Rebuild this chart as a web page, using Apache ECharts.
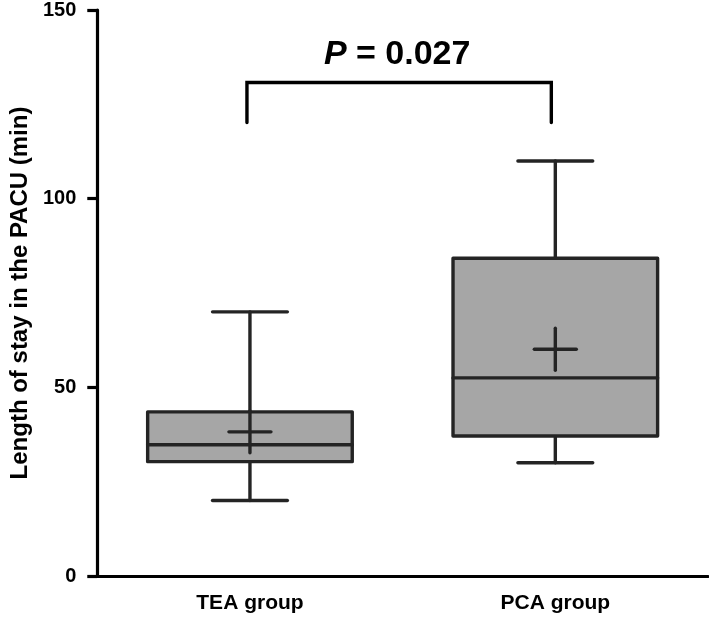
<!DOCTYPE html>
<html>
<head>
<meta charset="utf-8">
<script src="https://cdn.jsdelivr.net/npm/echarts@6/dist/echarts.min.js"></script>
<style>html,body{margin:0;padding:0;background:#fff}#c{width:709px;height:621px}</style>
</head>
<body>
<div id="c"></div>
<script>
var categories = ['TEA group', 'PCA group'];
var whiskerMin = [20, 30];
var q1Values = [30.3, 37.1];
var medianValues = [34.8, 52.5];
var q3Values = [43.5, 84.2];
var whiskerMax = [70, 110];
var meanValues = [38.2, 60.1];
var yTicks = [0, 50, 100, 150];
var bracketTop = 130.8;
var bracketBottom = 120.2;
var pLabelValue = 138.3;
var pLabel = 'P = 0.027';

var FONT = '"Liberation Sans", Arial, Helvetica, sans-serif';
var LINE = '#242424';
var FILL = '#a6a6a6';

var boxData = categories.map(function (c, i) {
  return [i, whiskerMin[i], q1Values[i], medianValues[i], q3Values[i], whiskerMax[i], meanValues[i]];
});

var chart = echarts.init(document.getElementById('c'), null, {renderer: 'canvas'});
chart.setOption({
  animation: false,
  backgroundColor: '#fff',
  grid: {left: 97, right: 1, top: 9.5, bottom: 45, containLabel: false},
  xAxis: {
    type: 'category',
    data: categories,
    boundaryGap: true,
    axisLine: {lineStyle: {color: '#000', width: 3.2}},
    axisTick: {alignWithLabel: true, length: 12, lineStyle: {color: '#000', width: 3.2}},
    axisLabel: {color: '#000', fontFamily: FONT, fontWeight: 'bold', fontSize: 21, margin: 17},
    splitLine: {show: false}
  },
  yAxis: {
    type: 'value',
    min: yTicks[0],
    max: yTicks[yTicks.length - 1],
    interval: yTicks[1] - yTicks[0],
    name: 'Length of stay in the PACU (min)',
    nameLocation: 'middle',
    nameRotate: 90,
    nameGap: 62,
    nameTextStyle: {color: '#000', fontFamily: FONT, fontWeight: 'bold', fontSize: 24},
    axisLine: {show: true, lineStyle: {color: '#000', width: 3.2}},
    axisTick: {show: true, inside: false, length: 10, lineStyle: {color: '#000', width: 3.2}},
    axisLabel: {color: '#000', fontFamily: FONT, fontWeight: 'bold', fontSize: 20, margin: 21},
    splitLine: {show: false}
  },
  series: [
    {
      type: 'custom',
      data: boxData,
      encode: {x: 0, y: [1, 2, 3, 4, 5, 6]},
      renderItem: function (params, api) {
        var i = api.value(0);
        var band = api.size([1, 0])[0];
        var cx = api.coord([i, 0])[0];
        var yMin = api.coord([i, api.value(1)])[1];
        var yQ1 = api.coord([i, api.value(2)])[1];
        var yMed = api.coord([i, api.value(3)])[1];
        var yQ3 = api.coord([i, api.value(4)])[1];
        var yMax = api.coord([i, api.value(5)])[1];
        var yMean = api.coord([i, api.value(6)])[1];
        var hw = band * 0.67 / 2;
        var cap = band * 0.245 / 2;
        var cr = 21;
        var ls = {stroke: LINE, lineWidth: 3.4, lineCap: 'round'};
        return {
          type: 'group',
          children: [
            {type: 'line', shape: {x1: cx, y1: yMax, x2: cx, y2: yQ3}, style: ls},
            {type: 'line', shape: {x1: cx, y1: yQ1, x2: cx, y2: yMin}, style: ls},
            {type: 'line', shape: {x1: cx - cap, y1: yMax, x2: cx + cap, y2: yMax}, style: ls},
            {type: 'line', shape: {x1: cx - cap, y1: yMin, x2: cx + cap, y2: yMin}, style: ls},
            {type: 'rect', shape: {x: cx - hw, y: yQ3, width: hw * 2, height: yQ1 - yQ3},
              style: {fill: FILL, stroke: LINE, lineWidth: 3.4, lineJoin: 'round'}},
            {type: 'line', shape: {x1: cx - hw, y1: yMed, x2: cx + hw, y2: yMed}, style: ls},
            {type: 'line', shape: {x1: cx - cr, y1: yMean, x2: cx + cr, y2: yMean}, style: ls},
            {type: 'line', shape: {x1: cx, y1: yMean - cr, x2: cx, y2: yMean + cr}, style: ls}
          ]
        };
      },
      z: 3
    },
    {
      type: 'custom',
      data: [[0, 1, bracketTop, bracketBottom, pLabelValue]],
      encode: {x: [0, 1], y: [2, 3, 4]},
      renderItem: function (params, api) {
        var p0 = api.coord([api.value(0), api.value(2)]);
        var p1 = api.coord([api.value(1), api.value(2)]);
        var yb = api.coord([api.value(0), api.value(3)])[1];
        var yt = api.coord([api.value(0), api.value(4)])[1];
        var x0 = p0[0] - 3, x1 = p1[0] - 4;
        var parts = pLabel.split(' ');
        return {
          type: 'group',
          children: [
            {type: 'polyline', shape: {points: [[x0, yb], [x0, p0[1]], [x1, p1[1]], [x1, yb]]}, style: {stroke: '#000', lineWidth: 3.4, fill: null, lineCap: 'round'}},
            {type: 'text', x: (x0 + x1) / 2 - 2, y: yt,
              style: {
                text: '{i|' + parts[0] + '} ' + parts.slice(1).join(' '),
                align: 'center', verticalAlign: 'middle',
                fill: '#000', fontFamily: FONT, fontWeight: 'bold', fontSize: 34,
                rich: {i: {fontStyle: 'italic', fontWeight: 'bold', fontFamily: FONT, fontSize: 34, fill: '#000'}}
              }}
          ]
        };
      },
      z: 4
    }
  ]
});
</script>
</body>
</html>
